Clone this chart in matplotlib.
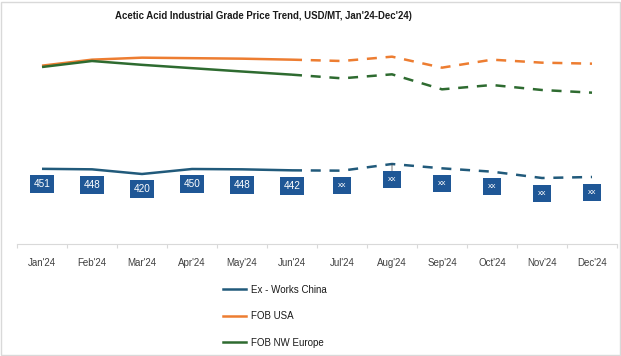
import matplotlib.pyplot as plt
from matplotlib.lines import Line2D

months = ["Jan'24", "Feb'24", "Mar'24", "Apr'24", "May'24", "Jun'24",
          "Jul'24", "Aug'24", "Sep'24", "Oct'24", "Nov'24", "Dec'24"]

china = [451, 448, 420, 450, 448, 442, 440, 480, 454, 434, 396, 402]
usa = [1070, 1106, 1118, 1115, 1112, 1106, 1098, 1124, 1058, 1106, 1088, 1082]
europe = [1062, 1098, 1075, 1055, 1035, 1016, 994, 1018, 928, 954, 924, 908]

china_labels = ["451", "448", "420", "450", "448", "442",
                "xx", "xx", "xx", "xx", "xx", "xx"]

n_actual = 6  # solid up to Jun, dashed after

series = [
    ("Ex - Works China", china, '#215A7B'),
    ("FOB USA", usa, '#ED7D31'),
    ("FOB NW Europe", europe, '#2E6B30'),
]

plt.rcParams['font.family'] = ['Liberation Sans', 'DejaVu Sans']

fig = plt.figure(figsize=(6.21, 3.56), dpi=100)
ax = fig.add_axes([17 / 621, (356 - 244) / 356, 600 / 621, 200 / 356])

x = list(range(len(months)))
for name, vals, col in series:
    ax.plot(x[:n_actual], vals[:n_actual], color=col, lw=1.8, solid_capstyle='butt')
    ax.plot(x[n_actual - 1:], vals[n_actual - 1:], color=col, lw=1.8,
            linestyle=(0, (4, 3.5)), dash_capstyle='butt')

for i, (v, lab) in enumerate(zip(china, china_labels)):
    kw = {}
    if months[i] == "Aug'24":
        kw['arrowprops'] = dict(arrowstyle='-', lw=0.5, color='#404040', shrinkA=0, shrinkB=0)
    if lab == 'xx':
        fs, pad = 6, 0.6
    else:
        fs, pad = 7.2, 0.4
    ax.annotate(lab, (i, v), xytext=(0, -11), textcoords='offset points',
                ha='center', va='center', color='white', fontsize=fs,
                bbox=dict(boxstyle=f'square,pad={pad}', fc='#1F5796', ec='none'), **kw)

ax.set_xlim(-0.5, 11.5)
ax.set_ylim(0, 1200)
ax.set_yticks([])
for s in ['top', 'right', 'left']:
    ax.spines[s].set_visible(False)
ax.spines['bottom'].set_color('#D9D9D9')
ax.set_xticks([i - 0.5 for i in range(13)])
ax.set_xticklabels([])
ax.set_xticks(x, minor=True)
ax.set_xticklabels(months, minor=True, fontsize=7, color='#404040')
ax.tick_params(axis='x', which='major', length=3, color='#D9D9D9', direction='out')
ax.tick_params(axis='x', which='minor', length=0, pad=10)

fig.text(263 / 621, 1 - 16 / 356, "Acetic Acid Industrial Grade Price Trend, USD/MT, Jan'24-Dec'24)",
         ha='center', va='center', fontsize=6.9, fontweight='bold', color='#1A1A1A')

# legend drawn as stacked entries below the axis
handles = [Line2D([], [], color=col, lw=1.8) for _, _, col in series]
fig.legend(handles, [s[0] for s in series], loc='upper left',
           bbox_to_anchor=(214 / 621, 1 - 276 / 356), frameon=False,
           fontsize=7, labelspacing=1.7, handlelength=2.4, handletextpad=0.5,
           labelcolor='#1A1A1A')

# chart border
fig.add_artist(plt.Rectangle((0.002, 0.003), 0.996, 0.992, transform=fig.transFigure,
                             fill=False, ec='#D9D9D9', lw=1))

fig.savefig('out.png', dpi=100)
